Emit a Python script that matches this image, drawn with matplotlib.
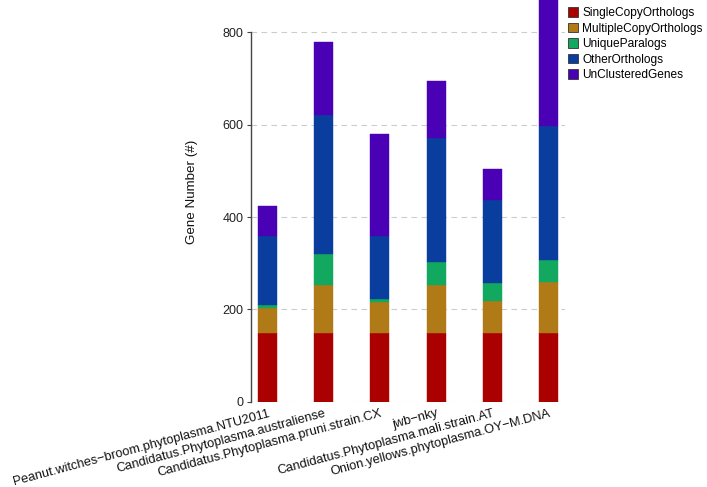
import matplotlib
matplotlib.use("Agg")
import matplotlib.pyplot as plt
import numpy as np

genomes = ["Peanut.witches\u2212broom.phytoplasma.NTU2011",
           "Candidatus.Phytoplasma.australiense",
           "Candidatus.Phytoplasma.pruni.strain.CX",
           "jwb\u2212nky",
           "Candidatus.Phytoplasma.mali.strain.AT",
           "Onion.yellows.phytoplasma.OY\u2212M.DNA"]
categories = ["SingleCopyOrthologs", "MultipleCopyOrthologs", "UniqueParalogs",
              "OtherOrthologs", "UnClusteredGenes"]
single_copy = [150, 150, 150, 150, 150, 150]
multiple_copy = [52, 103, 66, 103, 69, 110]
unique_paralogs = [7, 66, 6, 50, 38, 48]
other_orthologs = [150, 301, 138, 269, 179, 290]
unclustered = [66, 160, 219, 123, 68, 340]
yticks = [0, 200, 400, 600, 800]

colors = ["#AA0000", "#B07A16", "#12A860", "#0A3E9E", "#4A00B4"]

plt.rcParams['font.family'] = ['Liberation Sans', 'DejaVu Sans']
fig = plt.figure(figsize=(7.07, 4.87), dpi=100)
ax = fig.add_axes([0.3546, 0.175, 0.445, 0.825])

series = [single_copy, multiple_copy, unique_paralogs, other_orthologs, unclustered]
x = np.arange(len(genomes))
bottom = np.zeros(len(genomes))
for name, vals, c in zip(categories, series, colors):
    ax.bar(x, vals, width=0.34, bottom=bottom, color=c, label=name,
           edgecolor=c, linewidth=0.3, zorder=3)
    bottom += np.array(vals)

ax.set_xlim(-0.3, len(genomes) - 0.7)
ax.set_ylim(0, 870)
ax.set_yticks(yticks)
ax.set_yticklabels([str(v) for v in yticks], fontsize=9, color="#222222")
ax.yaxis.grid(True, linestyle=(0, (5, 4)), color="#CCCCCC", linewidth=0.8, zorder=0)
ax.set_axisbelow(True)
for s in ["top", "right", "bottom"]:
    ax.spines[s].set_visible(False)
ax.spines["left"].set_color("#444444")
ax.spines["left"].set_linewidth(1.0)
ax.spines["left"].set_bounds(0, 800)
ax.tick_params(axis="y", length=3, width=0.8, color="#444444", pad=2)
ax.tick_params(axis="x", length=0, pad=4)
ax.set_xticks(x)
ax.set_xticklabels(genomes, rotation=15, ha="right", va="top",
                   rotation_mode="anchor", fontsize=9.3, color="#111111")
ax.set_ylabel("Gene Number (#)", fontsize=9.6, color="#111111")
ax.yaxis.set_label_coords(-0.168, 0.522)

leg = ax.legend(loc="upper left", bbox_to_anchor=(568 / 707, 1 - 7 / 487),
                bbox_transform=fig.transFigure, frameon=False,
                fontsize=8.6, handlelength=0.84, handleheight=0.84,
                handletextpad=0.35, labelspacing=0.3, borderaxespad=0.0,
                borderpad=0.0)
for h in leg.legend_handles:
    h.set_edgecolor("#333333")
    h.set_linewidth(0.6)

fig.savefig("out.png", dpi=100)
